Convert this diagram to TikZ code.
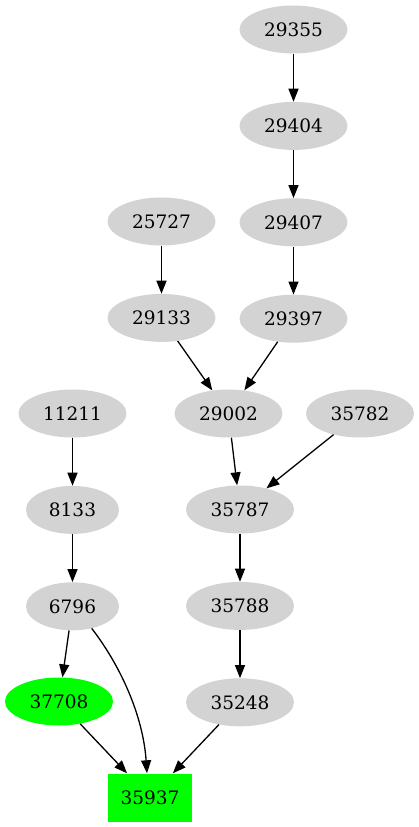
\documentclass[tikz,border=0pt]{standalone}
\usepackage{fontspec}
\setmainfont{DejaVu Serif}
\usetikzlibrary{arrows.meta,positioning,shapes.geometric}

\begin{document}
\begin{tikzpicture}[x=1pt,y=-1pt,font=\fontsize{18.5}{22}\selectfont,node distance=48pt,
vert/.style={ellipse,fill={rgb,255:red,211;green,211;blue,211},inner sep=0pt,minimum width=108pt,minimum height=48pt},
short/.style={vert,minimum width=93pt},
hit/.style={fill={rgb,255:red,0;green,255;blue,0}},
sink/.style={rectangle,hit,inner sep=0pt,minimum width=84pt,minimum height=48pt},
arr/.style={-{Triangle[length=13pt,width=10pt]},line width=1.3pt}]
\useasboundingbox (0,0) rectangle (419,827);
\node[vert] (n29355) at (293.5,29.5) {29355};
\node[vert,below=of n29355] (n29404) {29404};
\node[vert,below=of n29404] (n29407) {29407};
\node[vert,below=of n29407] (n29397) {29397};
\node[vert] (n25727) at (161.5,221.5) {25727};
\node[vert,below=of n25727] (n29133) {29133};
\node[vert] (n29002) at (228.5,413.5) {29002};
\node[vert] (n35782) at (360,413.5) {35782};
\node[vert] (n11211) at (72.5,413.5) {11211};
\node[short,below=of n11211] (n8133) {8133};
\node[short,below=of n8133] (n6796) {6796};
\node[vert] (n35787) at (240,509.5) {35787};
\node[vert,below=of n35787] (n35788) {35788};
\node[vert,below=of n35788] (n35248) {35248};
\node[vert,hit] (n37708) at (59,701.5) {37708};
\node[sink] (n35937) at (150,797.5) {35937};
\draw[arr](n29355)--(n29404);
\draw[arr](n29404)--(n29407);
\draw[arr](n29407)--(n29397);
\draw[arr](n25727)--(n29133);
\draw[arr](n29133)--(n29002);
\draw[arr](n29397)--(n29002);
\draw[arr](n29002)--(n35787);
\draw[arr](n35782)--(n35787);
\draw[arr](n35787)--(n35788);
\draw[arr](n35788)--(n35248);
\draw[arr](n11211)--(n8133);
\draw[arr](n8133)--(n6796);
\draw[arr](n6796)--(n37708);
\draw[arr](n6796.-49) .. controls (120,665) and (143,715) .. ([xshift=-3pt]n35937.north);
\draw[arr](n37708)--(n35937);
\draw[arr](n35248)--(n35937);
\end{tikzpicture}
\end{document}
